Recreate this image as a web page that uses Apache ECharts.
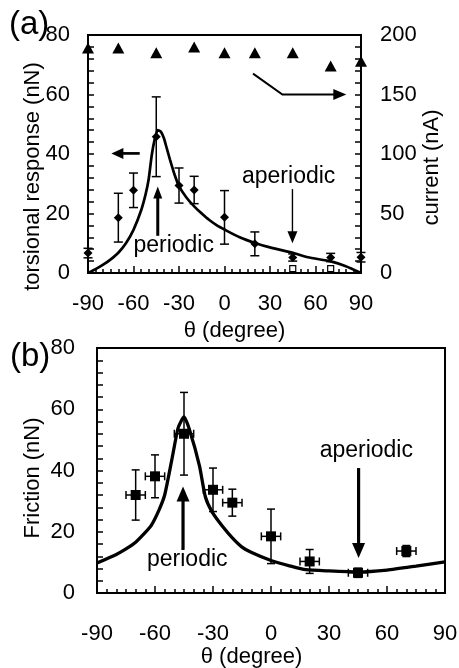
<!DOCTYPE html>
<html><head><meta charset="utf-8">
<script src="https://cdn.jsdelivr.net/npm/echarts@6/dist/echarts.min.js"></script>
<style>html,body{margin:0;padding:0;background:#fff}#c{width:459px;height:668px}</style>
</head><body><div id="c"></div>
<script>
// ---------- data: panel (a) ----------
const thetaA = [-90, -70, -60, -45, -30, -20, 0, 20, 45, 70, 90];
const torsionA = [6.7, 18.6, 27.8, 45.8, 29.4, 27.9, 18.7, 9.8, 5.2, 5.2, 5.3];
const torsionErrA = [1.6, 8.2, 5.8, 13.4, 5.9, 4.6, 9.0, 4.0, 1.2, 1.4, 1.6];
const thetaCurrent = [-90, -70, -45, -20, 0, 20, 45, 70, 90];
const currentA = [189, 189, 185, 190, 185, 185, 185, 174, 178];
const thetaOpenA = [45, 70];
const openA = [1.5, 1.5];
const fitThetaA = [-90, -85, -80, -75, -70, -65, -60, -55, -52, -50, -48, -46, -44, -42, -40, -38, -36, -33, -30, -25, -20, -15, -10, -5, 0, 10, 20, 30, 45, 55, 70, 80, 90];
const fitA = [0, 1.3, 2.8, 4.6, 6.8, 10.0, 14.5, 21.0, 26.5, 31.5, 39.5, 45.0, 48.0, 47.5, 45.4, 41.8, 38.2, 33.2, 29.2, 25.3, 22.4, 20.0, 17.8, 16.0, 14.6, 12.0, 10.1, 8.6, 6.8, 5.3, 3.9, 2.3, 0];
// ---------- data: panel (b) ----------
const thetaB = [-70, -60, -45, -30, -20, 0, 20, 45, 70];
const frictionB = [32.0, 38.1, 52.0, 33.7, 29.5, 18.5, 10.3, 6.6, 13.7];
const frictionErrB = [8.2, 7.0, 13.5, 7.1, 4.4, 8.9, 3.9, 1.5, 1.8];
const thetaErrB = [5, 5, 5, 5, 5, 5, 5, 5, 5];
const fitThetaB = [-90, -80, -75, -70, -65, -62, -58, -55, -51, -48, -45, -42, -37, -34, -30.5, -25, -20, -15, -10, 0, 10, 18, 30, 45, 60, 75, 90];
const fitB = [9.8, 12.6, 14.4, 16.6, 19.8, 22.0, 27.0, 32.0, 44.5, 54.0, 57.5, 53.0, 41.5, 31.5, 26.5, 21.7, 18.0, 15.0, 13.2, 10.6, 8.8, 7.6, 7.2, 6.9, 7.5, 8.8, 10.2];
// ---------- tick labels ----------
const thetaTicks = [-90, -60, -30, 0, 30, 60, 90];
const torsionTicks = [0, 20, 40, 60, 80];
const currentTicks = [0, 50, 100, 150, 200];
const frictionTicks = [0, 20, 40, 60, 80];
// ---------- annotations (data coordinates) ----------
const annotA = [{name: 'periodic', value: [-33.5, 9.2]}, {name: 'aperiodic', value: [42.3, 32.4]}];
const annotB = [{name: 'periodic', value: [-43.3, 10.9]}, {name: 'aperiodic', value: [49.3, 46.5]}];
const arrowsA = [
  {pts: [[-44, 12.5], [-44, 29.1]], w: 3, hl: 12, hw: 9},
  {pts: [[-55.9, 40.2], [-74.6, 40.2]], w: 2.7, hl: 12, hw: 11},
  {pts: [[44.8, 28.2], [44.8, 10.0]], w: 1.4, hl: 12, hw: 10},
  {pts: [[18.8, 67], [38.2, 60], [80.3, 60]], w: 2, hl: 13, hw: 11}
];
const arrowsB = [
  {pts: [[-45.5, 14.1], [-45.5, 34.8]], w: 3.2, hl: 15, hw: 13},
  {pts: [[45.3, 40.8], [45.3, 11.4]], w: 3.2, hl: 15, hw: 13}
];

const FONT = 'Liberation Sans, Arial, Helvetica, sans-serif';
const BLACK = '#000';

function errRender(cap) {
  return function (params, api) {
    const x = api.value(0), y = api.value(1), ey = api.value(2), ex = api.value(3);
    const ch = [];
    const st = {stroke: BLACK, lineWidth: 1.5};
    if (ey > 0) {
      const t = api.coord([x, y + ey]), b = api.coord([x, y - ey]);
      ch.push({type: 'line', shape: {x1: t[0], y1: t[1], x2: b[0], y2: b[1]}, style: st});
      ch.push({type: 'line', shape: {x1: t[0] - cap, y1: t[1], x2: t[0] + cap, y2: t[1]}, style: st});
      ch.push({type: 'line', shape: {x1: b[0] - cap, y1: b[1], x2: b[0] + cap, y2: b[1]}, style: st});
    }
    if (ex > 0) {
      const l = api.coord([x - ex, y]), r = api.coord([x + ex, y]);
      ch.push({type: 'line', shape: {x1: l[0], y1: l[1], x2: r[0], y2: r[1]}, style: st});
      ch.push({type: 'line', shape: {x1: l[0], y1: l[1] - cap, x2: l[0], y2: l[1] + cap}, style: st});
      ch.push({type: 'line', shape: {x1: r[0], y1: r[1] - cap, x2: r[0], y2: r[1] + cap}, style: st});
    }
    return {type: 'group', children: ch};
  };
}

function arrowRender(list) {
  return function (params, api) {
    const a = list[params.dataIndex];
    const p = a.pts.map(q => api.coord(q));
    const n = p.length;
    const tip = p[n - 1], prev = p[n - 2];
    const dx = tip[0] - prev[0], dy = tip[1] - prev[1];
    const len = Math.hypot(dx, dy);
    const ux = dx / len, uy = dy / len;
    const bx = tip[0] - ux * a.hl, by = tip[1] - uy * a.hl;
    const line = p.slice(0, n - 1).concat([[bx + ux * 1, by + uy * 1]]);
    return {type: 'group', children: [
      {type: 'polyline', shape: {points: line}, style: {stroke: BLACK, lineWidth: a.w, fill: null, lineJoin: 'miter'}},
      {type: 'polygon', shape: {points: [tip, [bx - uy * a.hw / 2, by + ux * a.hw / 2], [bx + uy * a.hw / 2, by - ux * a.hw / 2]]}, style: {fill: BLACK}}
    ]};
  };
}

const tickLabel = {color: BLACK, fontSize: 22, fontFamily: FONT};
const nameStyle = {color: BLACK, fontSize: 22, fontFamily: FONT};
const lineW = {color: BLACK, width: 2};
const solid = {color: BLACK, opacity: 1};
const annLabel = {show: true, position: 'inside', formatter: '{b}', color: BLACK, opacity: 1, fontSize: 23, fontFamily: FONT};

function xAx(gi, margin, gap, pad) {
  return {
    type: 'value', gridIndex: gi, min: -90, max: 90, interval: 30,
    name: 'θ (degree)', nameLocation: 'middle', nameGap: gap, nameMoveOverlap: false,
    nameTextStyle: Object.assign({padding: pad}, nameStyle),
    axisLine: {show: true, onZero: false, lineStyle: lineW},
    axisTick: {show: true, inside: true, length: 7, lineStyle: {color: BLACK, width: 1.5}},
    minorTick: {show: true, splitNumber: 6, length: 4, lineStyle: {color: BLACK, width: 1.5}},
    splitLine: {show: false},
    axisLabel: Object.assign({margin: margin, formatter: v => thetaTicks.includes(v) ? String(v) : ''}, tickLabel)
  };
}
function yAx(gi, opts) {
  return Object.assign({
    type: 'value', gridIndex: gi, nameLocation: 'middle', nameRotate: 90, nameMoveOverlap: false,
    axisLine: {show: true, onZero: false, lineStyle: lineW},
    axisTick: {show: true, inside: true, length: 6, lineStyle: {color: BLACK, width: 1.5}},
    minorTick: {show: true, splitNumber: 5, length: 6, lineStyle: {color: BLACK, width: 1.5}},
    splitLine: {show: false}
  }, opts);
}

const chart = echarts.init(document.getElementById('c'), null, {renderer: 'canvas'});
chart.setOption({
  animation: false,
  backgroundColor: '#fff',
  title: [
    {text: '(a)', left: 4, top: 3, textStyle: {fontSize: 33, fontWeight: 'normal', color: BLACK, fontFamily: FONT}},
    {text: '(b)', left: 5, top: 335, textStyle: {fontSize: 33, fontWeight: 'normal', color: BLACK, fontFamily: FONT}}
  ],
  grid: [
    {left: 88, top: 35, width: 273, height: 238, show: true, borderColor: BLACK, borderWidth: 2, backgroundColor: 'transparent', outerBoundsMode: 'none'},
    {left: 97, top: 348, width: 348, height: 245, show: true, borderColor: BLACK, borderWidth: 2, backgroundColor: 'transparent', outerBoundsMode: 'none'}
  ],
  xAxis: [xAx(0, 20, 47, [0, 0, 0, 20]), xAx(1, 30, 53, [0, 39, 0, 0])],
  yAxis: [
    yAx(0, {min: 0, max: 80, interval: 20, name: 'torsional response (nN)', nameGap: 44,
      nameTextStyle: Object.assign({padding: [0, 45, 0, 0]}, nameStyle),
      axisLabel: Object.assign({margin: 18, formatter: v => torsionTicks.includes(v) ? String(v) : ''}, tickLabel)}),
    yAx(0, {min: 0, max: 200, interval: 50, position: 'right', name: 'current (nA)', nameGap: 60,
      nameTextStyle: Object.assign({padding: [0, 27, 0, 0]}, nameStyle),
      axisLabel: Object.assign({margin: 19, formatter: v => currentTicks.includes(v) ? String(v) : ''}, tickLabel)}),
    yAx(1, {min: 0, max: 80, interval: 20, name: 'Friction (nN)', nameGap: 53,
      nameTextStyle: Object.assign({padding: [0, 15, 0, 0]}, nameStyle),
      axisLabel: Object.assign({margin: 22, formatter: v => frictionTicks.includes(v) ? String(v) : ''}, tickLabel)})
  ],
  series: [
    {type: 'line', name: 'fit a', xAxisIndex: 0, yAxisIndex: 0, data: fitThetaA.map((t, i) => [t, fitA[i]]),
      smooth: 0.2, showSymbol: false, symbol: 'none', lineStyle: {color: BLACK, width: 2.7}, z: 3},
    {type: 'custom', name: 'err a', xAxisIndex: 0, yAxisIndex: 0, renderItem: errRender(4.5),
      data: thetaA.map((t, i) => [t, torsionA[i], torsionErrA[i], 0]), z: 4},
    {type: 'scatter', name: 'torsional response', xAxisIndex: 0, yAxisIndex: 0, symbol: 'diamond', symbolSize: 9,
      itemStyle: solid, data: thetaA.map((t, i) => [t, torsionA[i]]), z: 5},
    {type: 'scatter', name: 'open', xAxisIndex: 0, yAxisIndex: 0, symbol: 'rect', symbolSize: 6,
      itemStyle: {color: '#fff', opacity: 1, borderColor: BLACK, borderWidth: 1.2}, data: thetaOpenA.map((t, i) => [t, openA[i]]), z: 5},
    {type: 'scatter', name: 'current', xAxisIndex: 0, yAxisIndex: 1, symbol: 'triangle', symbolSize: [12, 11],
      itemStyle: solid, clip: false, data: thetaCurrent.map((t, i) => [t, currentA[i]]), z: 5},
    {type: 'custom', name: 'arrows a', xAxisIndex: 0, yAxisIndex: 0, renderItem: arrowRender(arrowsA),
      data: arrowsA.map((a, i) => [i]), clip: false, z: 6},
    {type: 'scatter', name: 'labels a', xAxisIndex: 0, yAxisIndex: 0, symbolSize: 0, itemStyle: solid, data: annotA,
      label: annLabel, z: 7},

    {type: 'line', name: 'fit b', xAxisIndex: 1, yAxisIndex: 2, data: fitThetaB.map((t, i) => [t, fitB[i]]),
      smooth: 0.2, showSymbol: false, symbol: 'none', lineStyle: {color: BLACK, width: 3.3}, z: 3},
    {type: 'custom', name: 'err b', xAxisIndex: 1, yAxisIndex: 2, renderItem: errRender(4),
      data: thetaB.map((t, i) => [t, frictionB[i], frictionErrB[i], thetaErrB[i]]), z: 4},
    {type: 'scatter', name: 'friction', xAxisIndex: 1, yAxisIndex: 2, symbol: 'rect', symbolSize: 10,
      itemStyle: solid, data: thetaB.map((t, i) => [t, frictionB[i]]), z: 5},
    {type: 'custom', name: 'arrows b', xAxisIndex: 1, yAxisIndex: 2, renderItem: arrowRender(arrowsB),
      data: arrowsB.map((a, i) => [i]), clip: false, z: 6},
    {type: 'scatter', name: 'labels b', xAxisIndex: 1, yAxisIndex: 2, symbolSize: 0, itemStyle: solid, data: annotB,
      label: annLabel, z: 7}
  ]
});
</script></body></html>
